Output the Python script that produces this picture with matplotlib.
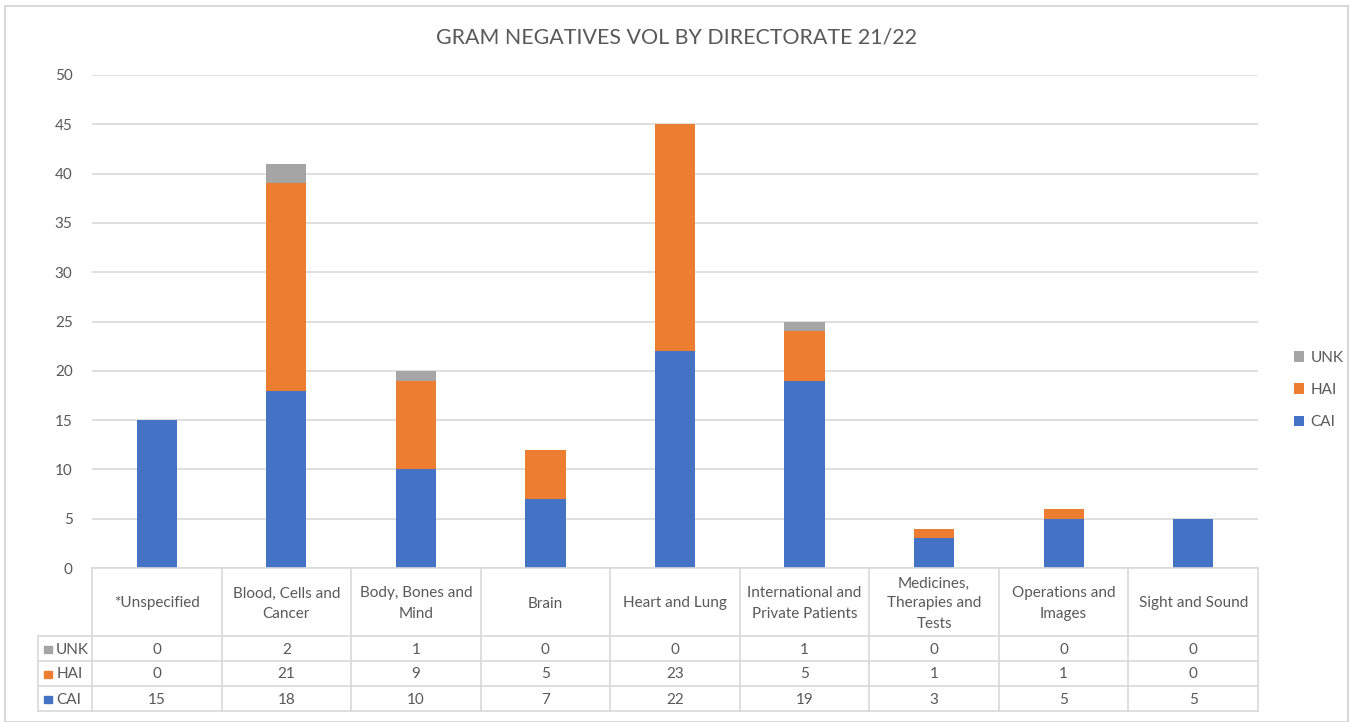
#!/usr/bin/env python3

import matplotlib.pyplot as plt
from matplotlib.patches import Rectangle
import numpy as np

plt.rcParams['font.family'] = ['Lato', 'DejaVu Sans']

categories = ['*Unspecified', 'Blood, Cells and\nCancer', 'Body, Bones and\nMind', 'Brain',
              'Heart and Lung', 'International and\nPrivate Patients',
              'Medicines,\nTherapies and\nTests', 'Operations and\nImages', 'Sight and Sound']
cai = [15, 18, 10, 7, 22, 19, 3, 5, 5]
hai = [0, 21, 9, 5, 23, 5, 1, 1, 0]
unk = [0, 2, 1, 0, 0, 1, 0, 0, 0]
title = 'GRAM NEGATIVES VOL BY DIRECTORATE 21/22'

c_cai = '#4472C4'
c_hai = '#ED7D31'
c_unk = '#A5A5A5'
txt = '#595959'
grid = '#D9D9D9'

W, H = 1352, 722
fig = plt.figure(figsize=(W / 100, H / 100), dpi=100)

# frame around the chart
fig.patches.append(Rectangle((5 / W, 0), 1343 / W, 1 - 6 / H, transform=fig.transFigure,
                             fill=False, edgecolor=grid, linewidth=1.5))

x0, x1, y50, y0 = 92, 1258, 75, 568
ax = fig.add_axes([x0 / W, 1 - y0 / H, (x1 - x0) / W, (y0 - y50) / H])
x = np.arange(len(categories))
bw = 0.31
ax.bar(x, cai, bw, color=c_cai, label='CAI', zorder=3)
ax.bar(x, hai, bw, bottom=cai, color=c_hai, label='HAI', zorder=3)
ax.bar(x, unk, bw, bottom=np.array(cai) + np.array(hai), color=c_unk, label='UNK', zorder=3)
ax.set_xlim(-0.5, len(categories) - 0.5)
ax.set_ylim(0, 50)
ax.set_yticks(range(0, 51, 5))
ax.yaxis.grid(True, color=grid, linewidth=1.2)
ax.set_xticks([])
for s in ax.spines.values():
    s.set_visible(False)
ax.tick_params(axis='y', length=0, labelsize=11, labelcolor=txt, pad=14)

fig.text(677 / W, 1 - 38 / H, title, ha='center', va='center', fontsize=15.4, color=txt)

# legend
h, l = ax.get_legend_handles_labels()
fig.legend(h[::-1], l[::-1], loc='center left', bbox_to_anchor=(1280 / W, 1 - 390 / H),
           frameon=False, fontsize=11, labelcolor=txt, handlelength=0.7, handleheight=0.7,
           handletextpad=0.4, labelspacing=1.2)

# data table
lab_w = (92 - 38) / 129.6
tax = fig.add_axes([38 / W, 1 - 711 / H, (x1 - 38) / W, (711 - y0) / H])
tax.set_xlim(-0.5 - lab_w, len(categories) - 0.5)
tax.set_ylim(143, 0)
tax.axis('off')
lw = 1.2
edges = -0.5 + np.arange(len(categories) + 1)
for e in edges:
    tax.plot([e, e], [0, 143], color=grid, lw=lw, clip_on=False)
tax.plot([-0.5 - lab_w] * 2, [68, 143], color=grid, lw=lw, clip_on=False)
tax.plot([-0.5, edges[-1]], [0, 0], color=grid, lw=lw, clip_on=False)
for yy in [68, 93, 118, 143]:
    tax.plot([-0.5 - lab_w, edges[-1]], [yy, yy], color=grid, lw=lw, clip_on=False)
for i, c in enumerate(categories):
    tax.text(i, 35.5, c, ha='center', va='center', fontsize=11, color=txt, linespacing=1.55)
rows = [('UNK', unk, c_unk), ('HAI', hai, c_hai), ('CAI', cai, c_cai)]
for r, (name, vals, col) in enumerate(rows):
    yc = 81.5 + 25 * r
    tax.add_patch(Rectangle((-0.5 - lab_w + 0.05, yc - 3.5), 0.055, 7, color=col, clip_on=False))
    tax.text(-0.5 - lab_w + 0.14, yc, name, ha='left', va='center', fontsize=11, color=txt)
    for i, v in enumerate(vals):
        tax.text(i, yc, str(v), ha='center', va='center', fontsize=11, color=txt)

plt.savefig('out.png', dpi=100)
